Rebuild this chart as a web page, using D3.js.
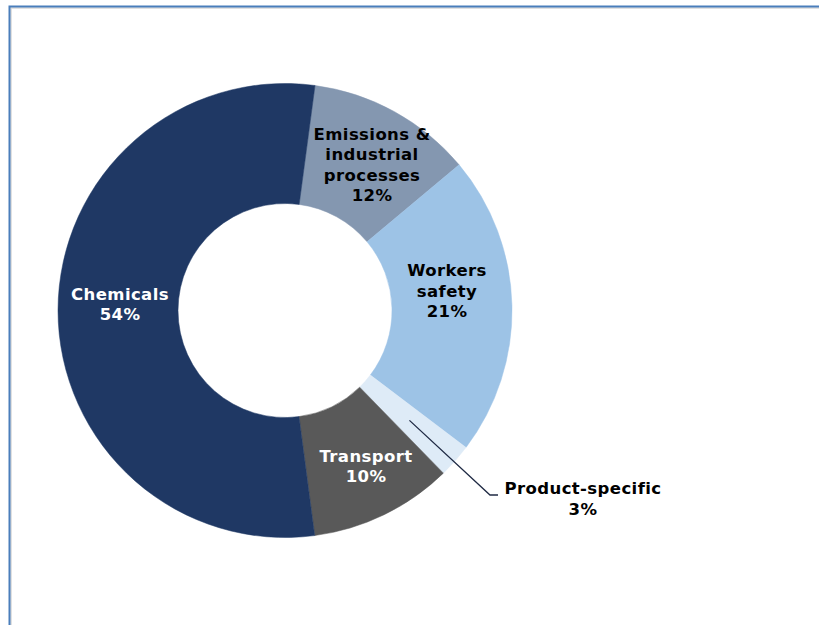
<!DOCTYPE html>
<html><head><meta charset="utf-8">
<script src="https://cdn.jsdelivr.net/npm/d3@7"></script>
<style>body{margin:0;background:#fff;}svg{display:block;}</style>
</head><body>
<svg id="c" width="819" height="625"></svg>
<script>
const categories = ["Emissions & industrial processes", "Workers safety", "Product-specific", "Transport", "Chemicals"];
const values = [11.8, 21.4, 2.4, 10.2, 54.2];
const labels = [["Emissions &", "industrial", "processes", "12%"], ["Workers", "safety", "21%"], ["Product-specific", "3%"], ["Transport", "10%"], ["Chemicals", "54%"]];
const colors = ["#8497B0", "#9DC3E6", "#DEEBF7", "#595959", "#1F3864"];
const textColors = ["#000", "#000", "#000", "#fff", "#fff"];

const svg = d3.select("#c");
// frame
svg.append("rect").attr("x", 11).attr("y", 8).attr("width", 900).attr("height", 700)
  .attr("fill", "none").attr("stroke", "#d8d8d8").attr("stroke-width", 1.5);
svg.append("rect").attr("x", 9.5).attr("y", 6.5).attr("width", 900).attr("height", 700)
  .attr("fill", "none").attr("stroke", "#4A7EBB").attr("stroke-width", 2);

const cx = 285, cy = 310.5, R = 227, r0 = 107;
const startA = 7.6 * Math.PI / 180;
const pie = d3.pie().sort(null).value(d => d).startAngle(startA).endAngle(startA + 2 * Math.PI);
const arcs = pie(values);
const arc = d3.arc().innerRadius(r0).outerRadius(R);
const g = svg.append("g").attr("transform", `translate(${cx},${cy})`);
g.selectAll("path").data(arcs).join("path")
  .attr("d", arc).attr("fill", (d, i) => colors[i])
  .attr("stroke", (d, i) => colors[i]).attr("stroke-width", 0.5);

const lh = 20.5;
const fontCss = "font-family:'DejaVu Sans',Verdana,sans-serif;font-weight:bold;font-size:16.5px;letter-spacing:0.4px";

function drawLabel(lines, x, y, color) {
  const t = svg.append("text").attr("text-anchor", "middle").attr("style", fontCss).attr("fill", color);
  const n = lines.length;
  lines.forEach((s, k) => {
    t.append("tspan").attr("x", x).attr("y", y + (k - (n - 1) / 2) * lh).attr("dy", "0.35em").text(s);
  });
}

// label centres (by slice index)
const labelCenters = {0: [372, 164.5], 1: [447, 291], 3: [366, 466], 4: [120, 304]};
arcs.forEach((a, i) => {
  if (labelCenters[i]) drawLabel(labels[i], labelCenters[i][0], labelCenters[i][1], textColors[i]);
});

// Product-specific callout
const pA = arcs[2];
const mid = (pA.startAngle + pA.endAngle) / 2;
const rIn = 166;
const p0 = [cx + rIn * Math.sin(mid), cy - rIn * Math.cos(mid)];
svg.append("polyline")
  .attr("points", `${p0[0]},${p0[1]} 490,495 498,495`)
  .attr("fill", "none").attr("stroke", "#1F2A44").attr("stroke-width", 1.3);
drawLabel(labels[2], 583, 498.5, "#000");
</script>
</body></html>
